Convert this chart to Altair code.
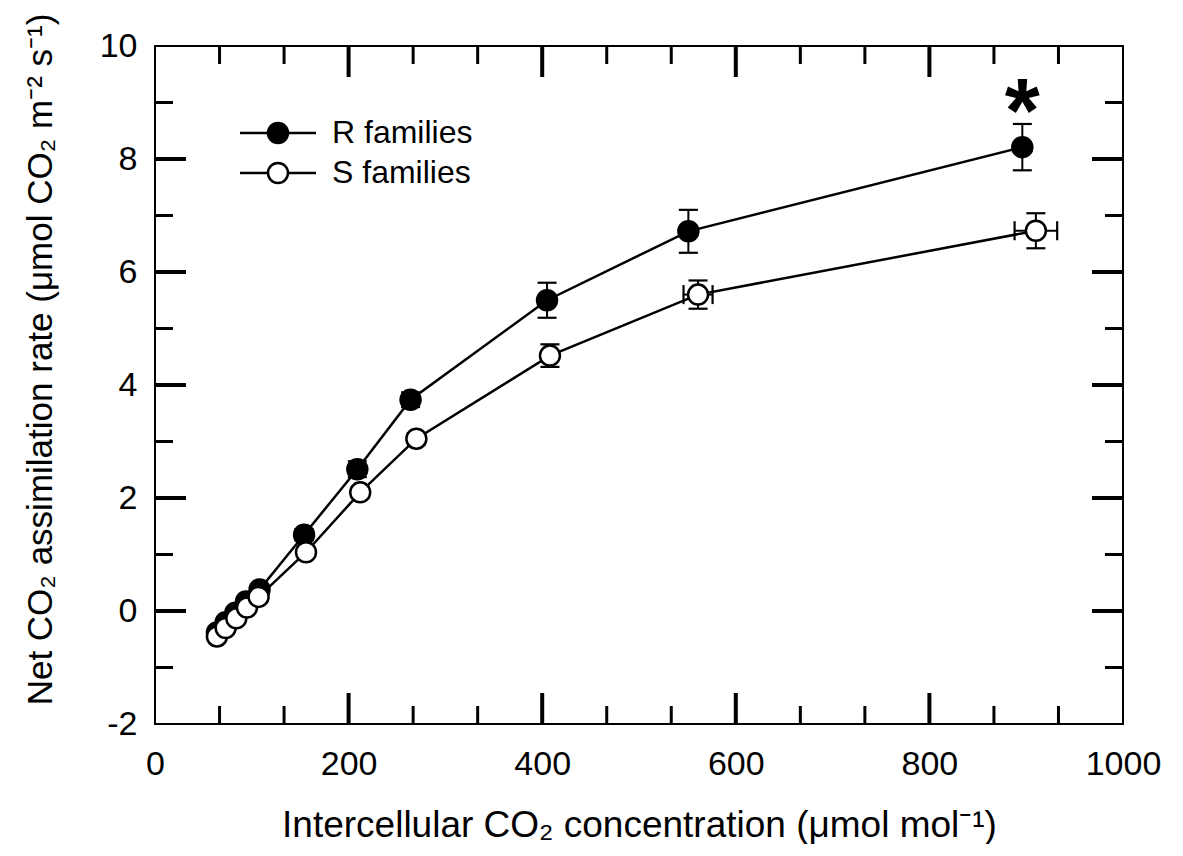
import altair as alt
import pandas as pd

# ---- data ----
ci_r = [64, 73, 83, 94, 108, 154, 209, 264, 405, 551, 896]
an_r = [-0.38, -0.20, -0.03, 0.17, 0.38, 1.35, 2.51, 3.74, 5.50, 6.72, 8.21]
an_r_err = [0.05, 0.05, 0.05, 0.05, 0.06, 0.10, 0.14, 0.13, 0.31, 0.38, 0.41]
ci_r_err = [0, 0, 0, 0, 0, 0, 0, 0, 0, 0, 0]

ci_s = [64, 73, 84, 95, 107, 156, 212, 270, 408, 561, 910]
an_s = [-0.45, -0.30, -0.13, 0.06, 0.25, 1.04, 2.10, 3.05, 4.52, 5.60, 6.73]
an_s_err = [0.05, 0.05, 0.05, 0.05, 0.05, 0.08, 0.10, 0.10, 0.20, 0.25, 0.31]
ci_s_err = [0, 0, 0, 0, 0, 0, 0, 0, 0, 15, 22]

series_names = ["R families", "S families"]

x_tick_labels = [0, 200, 400, 600, 800, 1000]
y_tick_labels = [-2, 0, 2, 4, 6, 8, 10]
x_major_ticks = [200, 400, 600, 800]
x_minor_ticks = [66.67, 133.33, 266.67, 333.33, 466.67, 533.33,
                 666.67, 733.33, 866.67, 933.33]
y_major_ticks = [0, 2, 4, 6, 8]
y_minor_ticks = [-1, 1, 3, 5, 7, 9]

annot_x = [896]
annot_y = [8.30]
annot_text = ["*"]

FONT = "Liberation Sans"
W, H = 968, 678


def frame(name, ci, an, an_err, ci_err):
    return pd.DataFrame({
        "series": name,
        "ci": ci,
        "an": an,
        "an_lo": [a - e for a, e in zip(an, an_err)],
        "an_hi": [a + e for a, e in zip(an, an_err)],
        "ci_lo": [c - e for c, e in zip(ci, ci_err)],
        "ci_hi": [c + e for c, e in zip(ci, ci_err)],
        "ci_err": ci_err,
    })


df = pd.concat([
    frame(series_names[0], ci_r, an_r, an_r_err, ci_r_err),
    frame(series_names[1], ci_s, an_s, an_s_err, ci_s_err),
], ignore_index=True)
df_xerr = df[df["ci_err"] > 0]
df_r = df[df["series"] == series_names[0]]
df_s = df[df["series"] == series_names[1]]

xs = alt.Scale(domain=[0, 1000], nice=False, zero=False)
ys = alt.Scale(domain=[-2, 10], nice=False, zero=False)

xa = alt.Axis(values=x_tick_labels, ticks=False, tickSize=0, domain=False, grid=False,
              labelFont=FONT, labelFontSize=34, labelColor="black", labelPadding=23,
              labelFlush=False, labelOverlap=False, labelExpr="'' + datum.value",
              title="Intercellular CO\u2082 concentration (\u03bcmol mol\u207b\u00b9)",
              titleFont=FONT, titleFontSize=37, titleFontWeight="normal", titleColor="black",
              titleX=484, titleY=112, titleAlign="center", titleBaseline="alphabetic")
ya = alt.Axis(values=y_tick_labels, ticks=False, tickSize=0, domain=False, grid=False,
              labelFont=FONT, labelFontSize=34, labelColor="black", labelPadding=18,
              labelFlush=False, labelOverlap=False, labelExpr="'' + datum.value",
              title="Net CO\u2082 assimilation rate (\u03bcmol CO\u2082 m\u207b\u00b2 s\u207b\u00b9)",
              titleFont=FONT, titleFontSize=35, titleFontWeight="normal", titleColor="black",
              titleAngle=270, titleX=-104, titleY=313, titleAlign="center",
              titleBaseline="alphabetic")


def X(f):
    return alt.X(f, type="quantitative", scale=xs, axis=xa)


def Y(f):
    return alt.Y(f, type="quantitative", scale=ys, axis=ya)


base = alt.Chart(df)

lines = base.mark_line(color="black", strokeWidth=2.5).encode(
    x=X("ci"), y=Y("an"), detail="series:N", order="ci:Q")

yerr = base.mark_rule(color="black", strokeWidth=2).encode(
    x=X("ci"), y=Y("an_lo"), y2="an_hi")
ycap_lo = base.mark_tick(color="black", orient="horizontal", size=19, thickness=2.2,
                         opacity=1).encode(x=X("ci"), y=Y("an_lo"))
ycap_hi = base.mark_tick(color="black", orient="horizontal", size=19, thickness=2.2,
                         opacity=1).encode(x=X("ci"), y=Y("an_hi"))

xerr = alt.Chart(df_xerr).mark_rule(color="black", strokeWidth=2).encode(
    x=X("ci_lo"), x2="ci_hi", y=Y("an"))
xcap_lo = alt.Chart(df_xerr).mark_tick(color="black", orient="vertical", size=19,
                                       thickness=2.2, opacity=1).encode(x=X("ci_lo"), y=Y("an"))
xcap_hi = alt.Chart(df_xerr).mark_tick(color="black", orient="vertical", size=19,
                                       thickness=2.2, opacity=1).encode(x=X("ci_hi"), y=Y("an"))

pts_r = alt.Chart(df_r).mark_point(shape="circle", filled=True, fill="black", stroke="black",
                                   strokeWidth=2, size=420, opacity=1).encode(
    x=X("ci"), y=Y("an"))
pts_s = alt.Chart(df_s).mark_point(shape="circle", filled=True, fill="white", stroke="black",
                                   strokeWidth=2.5, size=400, opacity=1).encode(
    x=X("ci"), y=Y("an"))

# inward ticks on all four sides
xmaj = pd.DataFrame({"v": x_major_ticks})
xmin = pd.DataFrame({"v": x_minor_ticks})
ymaj = pd.DataFrame({"v": y_major_ticks})
ymin = pd.DataFrame({"v": y_minor_ticks})

MAJ, MIN = 31, 18
tick_layers = []
for d, ln, sw in [(xmaj, MAJ, 4), (xmin, MIN, 3)]:
    tick_layers.append(alt.Chart(d).mark_rule(color="black", strokeWidth=sw).encode(
        x=X("v"), y=alt.value(H), y2=alt.value(H - ln)))
    tick_layers.append(alt.Chart(d).mark_rule(color="black", strokeWidth=sw).encode(
        x=X("v"), y=alt.value(0), y2=alt.value(ln)))
for d, ln, sw in [(ymaj, MAJ, 4), (ymin, MIN, 3)]:
    tick_layers.append(alt.Chart(d).mark_rule(color="black", strokeWidth=sw).encode(
        y=Y("v"), x=alt.value(0), x2=alt.value(ln)))
    tick_layers.append(alt.Chart(d).mark_rule(color="black", strokeWidth=sw).encode(
        y=Y("v"), x=alt.value(W), x2=alt.value(W - ln)))

# asterisk annotation
annot = alt.Chart(pd.DataFrame({"x": annot_x, "y": annot_y, "t": annot_text})).mark_text(
    font=FONT, fontSize=90, fontWeight="bold", color="black", align="center",
    baseline="alphabetic").encode(x=X("x"), y=Y("y"), text="t:N")

# legend (drawn manually: line through marker, as in the reference)
legend_layers = []
leg_rows = [(series_names[0], "black", 87), (series_names[1], "white", 127)]
for name, fill, yy in leg_rows:
    one = alt.Chart(pd.DataFrame({"label": [name]}))
    legend_layers.append(one.mark_rule(color="black", strokeWidth=2.5).encode(
        x=alt.value(85), x2=alt.value(161), y=alt.value(yy)))
    legend_layers.append(one.mark_point(shape="circle", filled=True, fill=fill,
                                        stroke="black", strokeWidth=2.5, size=400,
                                        opacity=1).encode(
        x=alt.value(123), y=alt.value(yy)))
    legend_layers.append(one.mark_text(font=FONT, fontSize=32, color="black", align="left",
                                       baseline="middle").encode(
        x=alt.value(177), y=alt.value(yy), text="label:N"))

chart = alt.layer(
    lines, yerr, ycap_lo, ycap_hi, xerr, xcap_lo, xcap_hi,
    *tick_layers, pts_r, pts_s, annot, *legend_layers
).properties(
    width=W, height=H,
    padding={"left": 147, "top": 38, "right": 52, "bottom": 120},
    autosize=alt.AutoSizeParams(type="none"),
    background="white",
).configure_view(stroke="black", strokeWidth=2)

chart.save("out.html", embed_options={"renderer": "svg", "actions": False})
